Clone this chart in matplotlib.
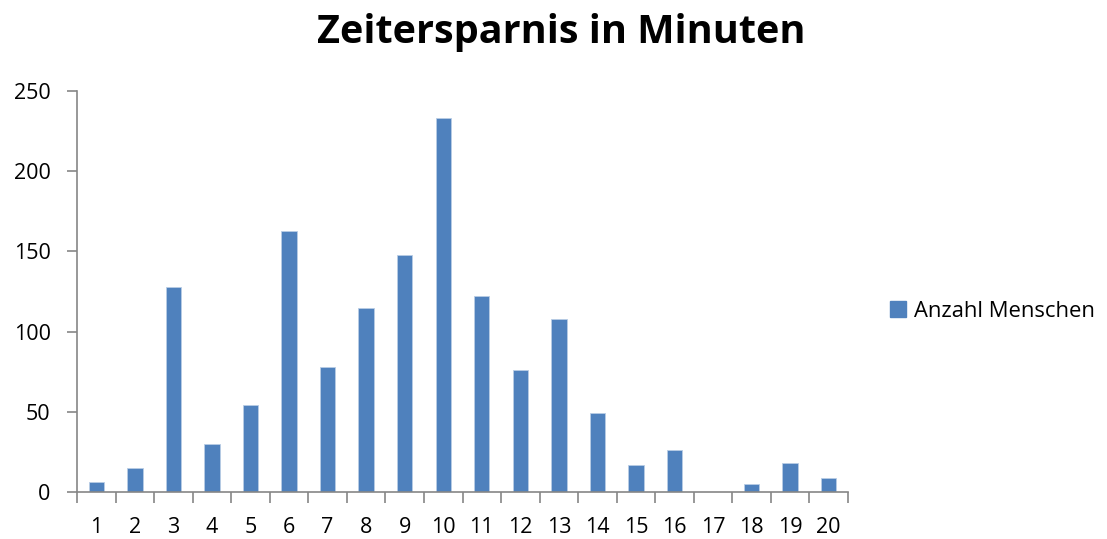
import numpy as np
import matplotlib.pyplot as plt
from matplotlib.patches import Patch

plt.rcParams['font.family'] = ['Open Sans', 'DejaVu Sans']

minuten = list(range(1, 21))
anzahl = [6, 15, 128, 30, 54, 163, 78, 115, 148, 233,
          122, 76, 108, 49, 17, 26, 0, 5, 18, 9]
farbe = '#4F81BD'
grau = '#868686'

fig = plt.figure(figsize=(11.07, 5.39), dpi=100)
ax = fig.add_axes([0.0696, 0.0872, 0.6964, 0.7439])

ax.bar(minuten, anzahl, width=0.4, color=farbe, edgecolor='#B9CDE5', linewidth=0.6)

ax.set_xlim(0.5, 20.5)
ax.set_ylim(0, 250)
ax.set_yticks(np.arange(0, 251, 50))
ax.set_xticks(minuten)
ax.set_xticks(np.arange(0.5, 21, 1), minor=True)
ax.tick_params(axis='x', which='major', length=0, pad=18, labelsize=15.5)
ax.tick_params(axis='x', which='minor', length=8, width=1.2, color=grau, direction='out')
ax.tick_params(axis='y', length=7, width=1.2, color=grau, labelsize=15.5, pad=12)

for s in ['top', 'right']:
    ax.spines[s].set_visible(False)
for s in ['left', 'bottom']:
    ax.spines[s].set_color(grau)
    ax.spines[s].set_linewidth(1.2)

fig.text(0.507, 0.94, 'Zeitersparnis in Minuten', ha='center', va='center',
         fontsize=28.5, fontweight='bold')

fig.legend(handles=[Patch(color=farbe, label='Anzahl Menschen')],
           loc='center left', bbox_to_anchor=(0.79, 0.423), frameon=False,
           fontsize=15.8, handlelength=0.75, handleheight=0.75, handletextpad=0.35,
           borderpad=0.2)

fig.savefig('out.png', dpi=100)
